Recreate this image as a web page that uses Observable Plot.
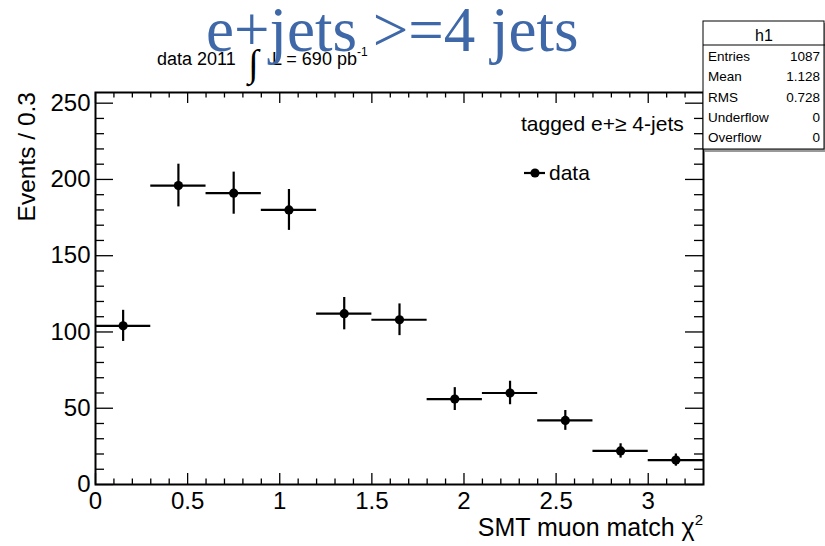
<!DOCTYPE html>
<html><head><meta charset="utf-8">
<script src="https://cdn.jsdelivr.net/npm/d3@7"></script>
<script src="https://cdn.jsdelivr.net/npm/@observablehq/plot@0.6"></script>
<style>
body{margin:0;background:#fff;}
#wrap{position:relative;width:825px;height:546px;}
</style></head><body><div id="wrap"></div>
<script>
// ---- data ----
const binEdges = [0, 0.3, 0.6, 0.9, 1.2, 1.5, 1.8, 2.1, 2.4, 2.7, 3.0, 3.3];
const binCenters = [0.15, 0.45, 0.75, 1.05, 1.35, 1.65, 1.95, 2.25, 2.55, 2.85, 3.15];
const counts = [104, 196, 191, 180, 112, 108, 56, 60, 42, 22, 16];
const errors = [10.2, 14.0, 13.8, 13.4, 10.6, 10.4, 7.5, 7.7, 6.5, 4.7, 4.0];
const xMajorTicks = [0, 0.5, 1, 1.5, 2, 2.5, 3];
const xMinorTicks = [0.1,0.2,0.3,0.4,0.6,0.7,0.8,0.9,1.1,1.2,1.3,1.4,1.6,1.7,1.8,1.9,2.1,2.2,2.3,2.4,2.6,2.7,2.8,2.9,3.1,3.2];
const yMajorTicks = [0, 50, 100, 150, 200, 250];
const yMinorTicks = [10,20,30,40,60,70,80,90,110,120,130,140,160,170,180,190,210,220,230,240];
const statsLabels = ["Entries", "Mean", "RMS", "Underflow", "Overflow"];
const statsValues = ["1087", "1.128", "0.728", "0", "0"];
const titleText = "e+jets >=4 jets";
const legendHeader = "tagged e+\u2265 4-jets";
const legendEntry = "data";

// ---- layout ----
const W = 825, H = 546, mL = 95, mR = 122, mT = 92, mB = 62;
const pw = W - mL - mR, ph = H - mT - mB;
const idx = counts.map((_, i) => i);
const sans = "'Liberation Sans', Arial, Helvetica, sans-serif";
const serif = "'Liberation Serif', 'Times New Roman', serif";

const svg = Plot.plot({
  width: W, height: H,
  marginLeft: mL, marginRight: mR, marginTop: mT, marginBottom: mB,
  x: {domain: [0, 3.3]},
  y: {domain: [0, 257]},
  style: {fontFamily: sans, fontSize: "24px", color: "#000", background: "#fff", overflow: "visible"},
  marks: [
    Plot.tickX(xMajorTicks, {x: d => d, insetTop: ph - 11, stroke: "#000", strokeWidth: 1.3}),
    Plot.tickX(xMajorTicks, {x: d => d, insetBottom: ph - 11, stroke: "#000", strokeWidth: 1.3}),
    Plot.tickX(xMinorTicks, {x: d => d, insetTop: ph - 5.5, stroke: "#000", strokeWidth: 1.3}),
    Plot.tickX(xMinorTicks, {x: d => d, insetBottom: ph - 5.5, stroke: "#000", strokeWidth: 1.3}),
    Plot.tickY(yMajorTicks, {y: d => d, insetRight: pw - 18, stroke: "#000", strokeWidth: 1.3}),
    Plot.tickY(yMajorTicks, {y: d => d, insetLeft: pw - 18, stroke: "#000", strokeWidth: 1.3}),
    Plot.tickY(yMinorTicks, {y: d => d, insetRight: pw - 9, stroke: "#000", strokeWidth: 1.3}),
    Plot.tickY(yMinorTicks, {y: d => d, insetLeft: pw - 9, stroke: "#000", strokeWidth: 1.3}),
    Plot.axisX(xMajorTicks, {tickSize: 0, tickPadding: 7, tickFormat: d => String(d), label: null, fontSize: 24}),
    Plot.axisY(yMajorTicks, {tickSize: 0, tickPadding: 5, tickFormat: d => String(d), label: null, fontSize: 24}),
    Plot.ruleY(idx, {y: i => counts[i], x1: i => binEdges[i], x2: i => binEdges[i + 1], stroke: "#000", strokeWidth: 2.2}),
    Plot.ruleX(idx, {x: i => binCenters[i], y1: i => counts[i] - errors[i], y2: i => counts[i] + errors[i], stroke: "#000", strokeWidth: 2.2}),
    Plot.dot(idx, {x: i => binCenters[i], y: i => counts[i], r: 4.6, fill: "#000", stroke: null}),
    Plot.frame({stroke: "#000", strokeWidth: 2})
  ]
});
document.getElementById("wrap").appendChild(svg);

// ---- annotations (ROOT pad texts) ----
const g = d3.select(svg).append("g").attr("text-anchor", "start");
function txt(x, y, s, size, opts = {}) {
  const t = g.append("text").attr("x", x).attr("y", y)
    .attr("text-anchor", opts.anchor || "start")
    .attr("font-family", opts.family || sans).attr("font-size", size)
    .attr("fill", opts.fill || "#000");
  if (s != null) t.text(s);
  return t;
}
// axis titles
g.append("text").attr("transform", "translate(35,92) rotate(-90)")
  .attr("text-anchor", "end").attr("font-family", sans).attr("font-size", 24.5).attr("fill", "#000")
  .text("Events / 0.3");
const xl = txt(703, 536, null, 25, {anchor: "end"});
xl.append("tspan").text("SMT muon match \u03c7");
xl.append("tspan").attr("font-size", 15).attr("dy", -11).text("2");

// luminosity label
txt(157, 65, "data 2011", 18);
txt(248, 76, "\u222b", 38, {family: serif});
const lum = txt(272, 65, null, 18);
lum.append("tspan").text("L = 690 pb");
lum.append("tspan").attr("font-size", 12).attr("dy", -9).text("-1");

// big title
txt(206, 51, titleText, 63, {family: serif, fill: "#3f68a8"});

// legend
txt(521, 131, legendHeader, 21);
g.append("line").attr("x1", 524).attr("x2", 545).attr("y1", 173).attr("y2", 173).attr("stroke", "#000").attr("stroke-width", 2.2);
g.append("circle").attr("cx", 535).attr("cy", 173).attr("r", 4.6).attr("fill", "#000");
txt(549, 180, legendEntry, 21);

// stats box
g.append("rect").attr("x", 705).attr("y", 23).attr("width", 122).attr("height", 129).attr("fill", "#999");
g.append("rect").attr("x", 703).attr("y", 21).attr("width", 121).attr("height", 128).attr("fill", "#fff").attr("stroke", "#000").attr("stroke-width", 1);
g.append("line").attr("x1", 703).attr("x2", 825).attr("y1", 45).attr("y2", 45).attr("stroke", "#000").attr("stroke-width", 1);
txt(764, 41, "h1", 16, {anchor: "middle"});
statsLabels.forEach((lab, i) => {
  const y = 61 + i * 20.3;
  txt(708, y, lab, 13.5);
  txt(820, y, statsValues[i], 13.5, {anchor: "end"});
});
</script>
</body></html>
